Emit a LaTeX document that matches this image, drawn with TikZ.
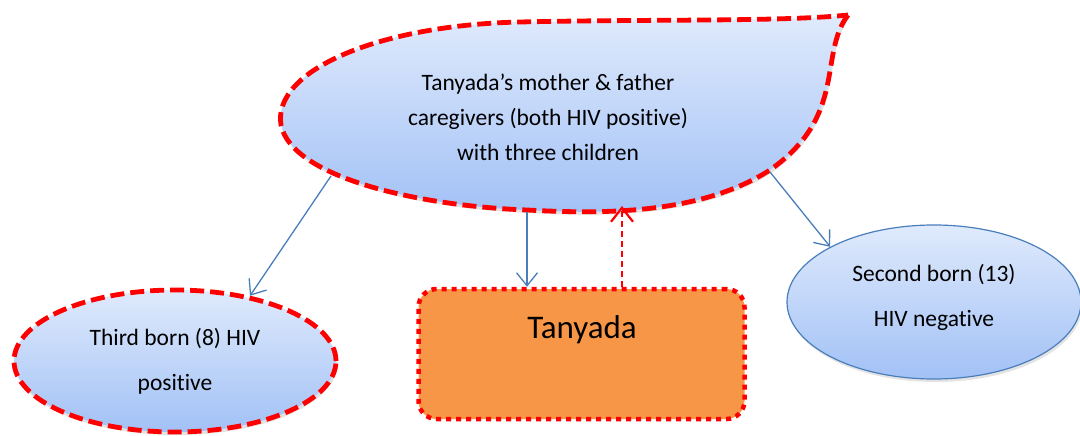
\documentclass[tikz,border=0pt]{standalone}
\usepackage{fontspec}
\setmainfont{Carlito}[Ligatures=NoCommon]
\usetikzlibrary{arrows.meta,shapes.geometric,shadows}
\definecolor{redline}{HTML}{FF0000}
\definecolor{blueline}{HTML}{4A7EBB}
\definecolor{topblue}{HTML}{DFEAFC}
\definecolor{botblue}{HTML}{A2C1F6}
\definecolor{boxorange}{HTML}{F79646}
\tikzset{
  softshadow/.style={drop shadow={opacity=0.22,shadow xshift=1.5pt,shadow yshift=-3pt}},
  bluefill/.style={top color=topblue,bottom color=botblue},
  reddash/.style={draw=redline,line width=4.8pt,dash pattern=on 14pt off 6pt},
  kidnode/.style={ellipse,bluefill,softshadow,inner sep=0pt,align=center},
  boxnode/.style={rectangle,rounded corners=18pt,fill=boxorange,draw=redline,line width=4.5pt,dash pattern=on 5pt off 5pt},
  bluearrow/.style={draw=blueline,line width=1.3pt,-{Straight Barb[length=13pt,width=21pt,line width=1.3pt]}},
  redarrow/.style={draw=redline,line width=2.2pt,dash pattern=on 6pt off 4pt,-{Straight Barb[length=14pt,width=22pt,line width=2.2pt,sep=0pt]}},
  bodytext/.style={font=\fontsize{23.5}{35}\selectfont},
  kidtext/.style={align=center,font=\fontsize{23.5}{45}\selectfont}
}
\begin{document}
\begin{tikzpicture}[x=1pt,y=-1pt]
\useasboundingbox (0,0) rectangle (1080,436);
% teardrop parents shape
\path[bluefill,softshadow,reddash]
  (848,15) .. controls (818,55) and (848,115) .. (770,170)
  .. controls (700,215) and (600,214) .. (527,210)
  .. controls (420,206) and (292,178) .. (281,125)
  .. controls (272,70) and (380,25) .. (520,22)
  .. controls (650,19) and (780,22) .. (848,15) -- cycle;
\node[bodytext,align=center] (parents) at (548,117)
  {Tanyada’s mother \& father\\caregivers (both HIV positive)\\with three children};
\coordinate (pl) at (331,176);
\coordinate (pm) at (527,212);
\coordinate (pr) at (770,172);
\coordinate (pd) at (622,206);
% children
\node[kidnode,reddash,minimum width=322pt,minimum height=142pt,
  kidtext] (third) at (175,361)
  {Third born (8) HIV\\positive};
\node[kidnode,draw=blueline,line width=1.2pt,minimum width=294pt,minimum height=154pt] (second) at (934,302) {};
\node[kidtext] (secondtext) at (934,297) {Second born (13)\\HIV negative};
\node[boxnode,minimum width=326pt,minimum height=130pt] (tanyada) at (581.5,354) {};
\node[font=\fontsize{33}{38}\selectfont] (tanyadatext) at (582,330) {Tanyada};
% connectors
\draw[bluearrow] (pl) -- (third.41);
\draw[bluearrow] (pm) -- (pm |- tanyada.north);
\draw[redarrow] (pd |- tanyada.north) -- (pd);
\draw[bluearrow] (pr) -- (second.152);
\end{tikzpicture}
\end{document}
